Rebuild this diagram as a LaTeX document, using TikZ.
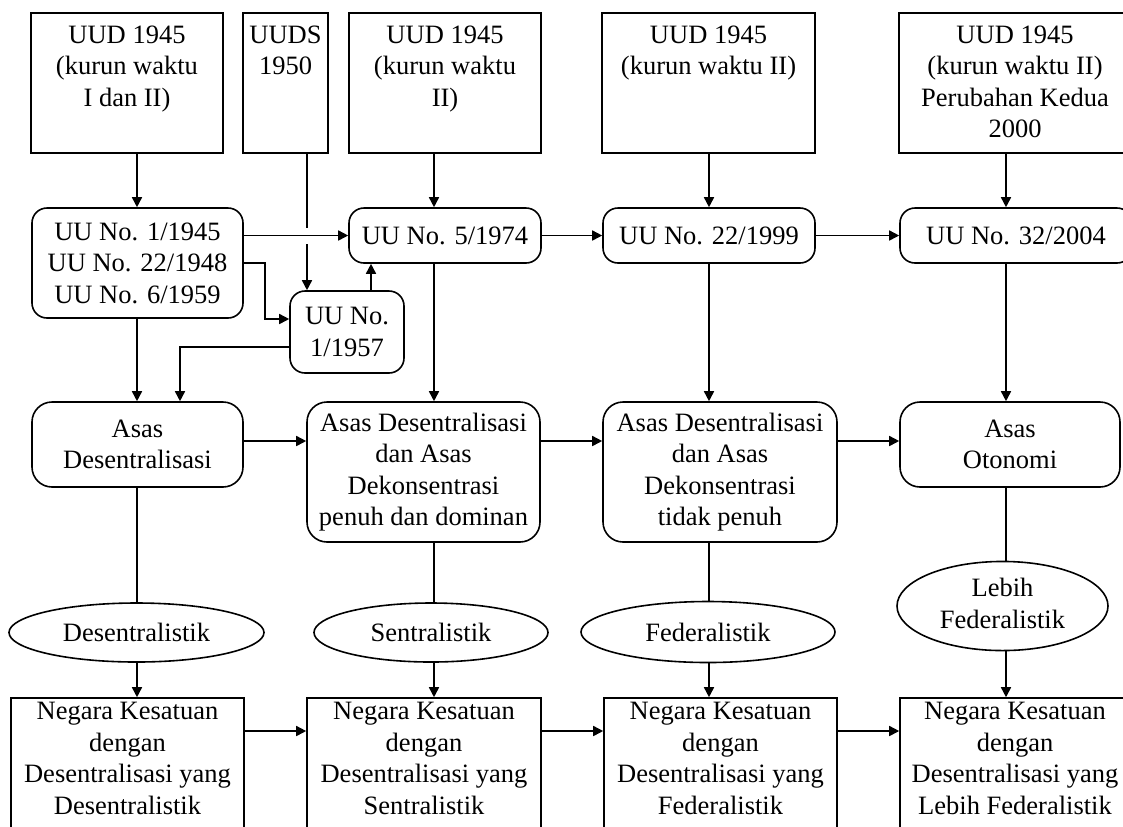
\documentclass[tikz,border=0pt]{standalone}
\usepackage{fontspec}
\setmainfont{Liberation Serif}
\usetikzlibrary{arrows.meta,shapes.geometric,positioning,calc}

\tikzset{
  kotak/.style={draw, line width=0.8pt, inner sep=0pt},
  bulat/.style={draw, line width=0.8pt, rounded corners=7.5pt, align=center, inner sep=0pt},
  elips/.style={draw, line width=0.8pt, ellipse, align=center, inner sep=0pt},
  isi/.style={align=center, inner sep=0pt},
  panah/.style={line width=0.8pt, -{Triangle[length=5pt,width=5pt]}},
  garis/.style={line width=0.8pt}
}

\begin{document}
\begin{tikzpicture}[x=0.5pt, y=-0.5pt, font=\fontsize{13.25}{15.75}\selectfont]
 \useasboundingbox (0,0) rectangle (1123,826);
 \clip (0,0) rectangle (1123,826);
 % baris UUD
 \node[kotak, minimum width=96pt, minimum height=70pt] (t1) at (127,83) {};
 \node[isi, below=6.5pt of t1.north] (t1x) {UUD 1945\\(kurun waktu\\I dan II)};
 \node[kotak, minimum width=42.5pt, minimum height=70pt] (t2) at (285.5,83) {};
 \node[isi, below=6.5pt of t2.north] (t2x) {UUDS\\1950};
 \node[kotak, minimum width=96pt, minimum height=70pt] (t3) at (445,83) {};
 \node[isi, below=6.5pt of t3.north] (t3x) {UUD 1945\\(kurun waktu\\II)};
 \node[kotak, minimum width=106.5pt, minimum height=70pt] (t4) at (708.5,83) {};
 \node[isi, below=6.5pt of t4.north] (t4x) {UUD 1945\\(kurun waktu II)};
 \node[kotak, minimum width=116pt, minimum height=70pt] (t5) at (1015,83) {};
 \node[isi, below=6.5pt of t5.north] (t5x) {UUD 1945\\(kurun waktu II)\\Perubahan Kedua\\2000};

 % baris UU
 \node[bulat, minimum width=105.5pt, minimum height=55pt] (u1) at (137.5,263) {UU No. 1/1945\\UU No. 22/1948\\UU No. 6/1959};
 \node[bulat, minimum width=96pt, minimum height=27.5pt] (u5) at (445,235.5) {UU No. 5/1974};
 \node[bulat, minimum width=106pt, minimum height=27.5pt] (u22) at (709,235.5) {UU No. 22/1999};
 \node[bulat, minimum width=116pt, minimum height=27.5pt] (u32) at (1016,235.5) {UU No. 32/2004};
 \node[bulat, minimum width=57pt, minimum height=41pt] (u57) at (347,332) {UU No.\\1/1957};

 % baris asas
 \node[bulat, rounded corners=10pt, minimum width=105.5pt, minimum height=42.5pt] (a1) at (137.5,444.5) {Asas\\Desentralisasi};
 \node[bulat, rounded corners=10pt, minimum width=116.5pt, minimum height=70pt] (a2) at (423.5,472) {Asas Desentralisasi\\dan Asas\\Dekonsentrasi\\penuh dan dominan};
 \node[bulat, rounded corners=10pt, minimum width=117pt, minimum height=70pt] (a3) at (720,472) {Asas Desentralisasi\\dan Asas\\Dekonsentrasi\\tidak penuh};
 \node[bulat, rounded corners=10pt, minimum width=110pt, minimum height=42.5pt] (a4) at (1010,444.5) {Asas\\Otonomi};

 % sifat
 \node[elips, minimum width=127.5pt, minimum height=29.5pt] (e1) at (136.5,632.5) {Desentralistik};
 \node[elips, minimum width=117pt, minimum height=29.5pt] (e2) at (431,632.5) {Sentralistik};
 \node[elips, minimum width=127pt, minimum height=30.5pt] (e3) at (708,632) {Federalistik};
 \node[elips, minimum width=105.5pt, minimum height=40pt] (e4) at (1002.5,606) {\raisebox{5pt}{\begin{tabular}{@{}c@{}}Lebih\\Federalistik\end{tabular}}};

 % bentuk negara
 \node[kotak, minimum width=116.5pt, minimum height=100pt] (n1) at (127.5,798) {};
 \node[isi, below=2.5pt of n1.north] (n1x) {Negara Kesatuan\\dengan\\Desentralisasi yang\\Desentralistik};
 \node[kotak, minimum width=117pt, minimum height=100pt] (n2) at (424,798) {};
 \node[isi, below=2.5pt of n2.north] (n2x) {Negara Kesatuan\\dengan\\Desentralisasi yang\\Sentralistik};
 \node[kotak, minimum width=116.5pt, minimum height=100pt] (n3) at (720.5,798) {};
 \node[isi, below=2.5pt of n3.north] (n3x) {Negara Kesatuan\\dengan\\Desentralisasi yang\\Federalistik};
 \node[kotak, minimum width=115pt, minimum height=100pt] (n4) at (1015,798) {};
 \node[isi, below=2.5pt of n4.north] (n4x) {Negara Kesatuan\\dengan\\Desentralisasi yang\\Lebih Federalistik};

 % jalur garis
 \coordinate (k1) at (137,0);
 \coordinate (kS) at (307,0);
 \coordinate (k2) at (434,0);
 \coordinate (k3) at (709,0);
 \coordinate (k4) at (1006,0);
 \coordinate (kN) at (371,0);
 \coordinate (belok) at (265,319);
 \coordinate (kiri) at (180,347);
 \coordinate (b3) at (0,441);
 \coordinate (b4) at (0,731);

 \draw[panah] (t1.south -| k1) -- (u1.north -| k1);
 \draw[panah] (t2.south -| kS) -- (u57.north -| kS);
 \draw[panah] (t3.south -| k2) -- (u5.north -| k2);
 \draw[panah] (t4.south -| k3) -- (u22.north -| k3);
 \draw[panah] (t5.south -| k4) -- (u32.north -| k4);

 \draw[panah, preaction={draw=white, line width=8pt, -, shorten <=15pt, shorten >=15pt}] (u5.west -| u1.east) -- (u5.west);
 \draw[panah] (u5.east) -- (u22.west);
 \draw[panah] (u22.east) -- (u32.west);
 \draw[panah] (u1.east) -| (belok) -- (belok -| u57.west);
 \draw[panah] (u57.north -| kN) -- (u5.south -| kN);
 \draw[panah] (kiri -| u57.west) -- (kiri) -- (kiri |- a1.north);

 \draw[panah] (u1.south -| k1) -- (a1.north -| k1);
 \draw[panah] (u5.south -| k2) -- (a2.north -| k2);
 \draw[panah] (u22.south -| k3) -- (a3.north -| k3);
 \draw[panah] (u32.south -| k4) -- (a4.north -| k4);

 \draw[panah] (a1.east |- b3) -- (a2.west |- b3);
 \draw[panah] (a2.east |- b3) -- (a3.west |- b3);
 \draw[panah] (a3.east |- b3) -- (a4.west |- b3);

 \draw[garis] (a1.south -| k1) -- (e1.north -| k1);
 \draw[garis] (a2.south -| k2) -- (e2.north -| k2);
 \draw[garis] (a3.south -| k3) -- (e3.north -| k3);
 \draw[garis] (a4.south -| k4) -- (e4.north -| k4);

 \draw[panah] (e1.south -| k1) -- (n1.north -| k1);
 \draw[panah] (e2.south -| k2) -- (n2.north -| k2);
 \draw[panah] (e3.south -| k3) -- (n3.north -| k3);
 \draw[panah] (e4.south -| k4) -- (n4.north -| k4);

 \draw[panah] (n1.east |- b4) -- (n2.west |- b4);
 \draw[panah] (n2.east |- b4) -- (n3.west |- b4);
 \draw[panah] (n3.east |- b4) -- (n4.west |- b4);
\end{tikzpicture}
\end{document}
